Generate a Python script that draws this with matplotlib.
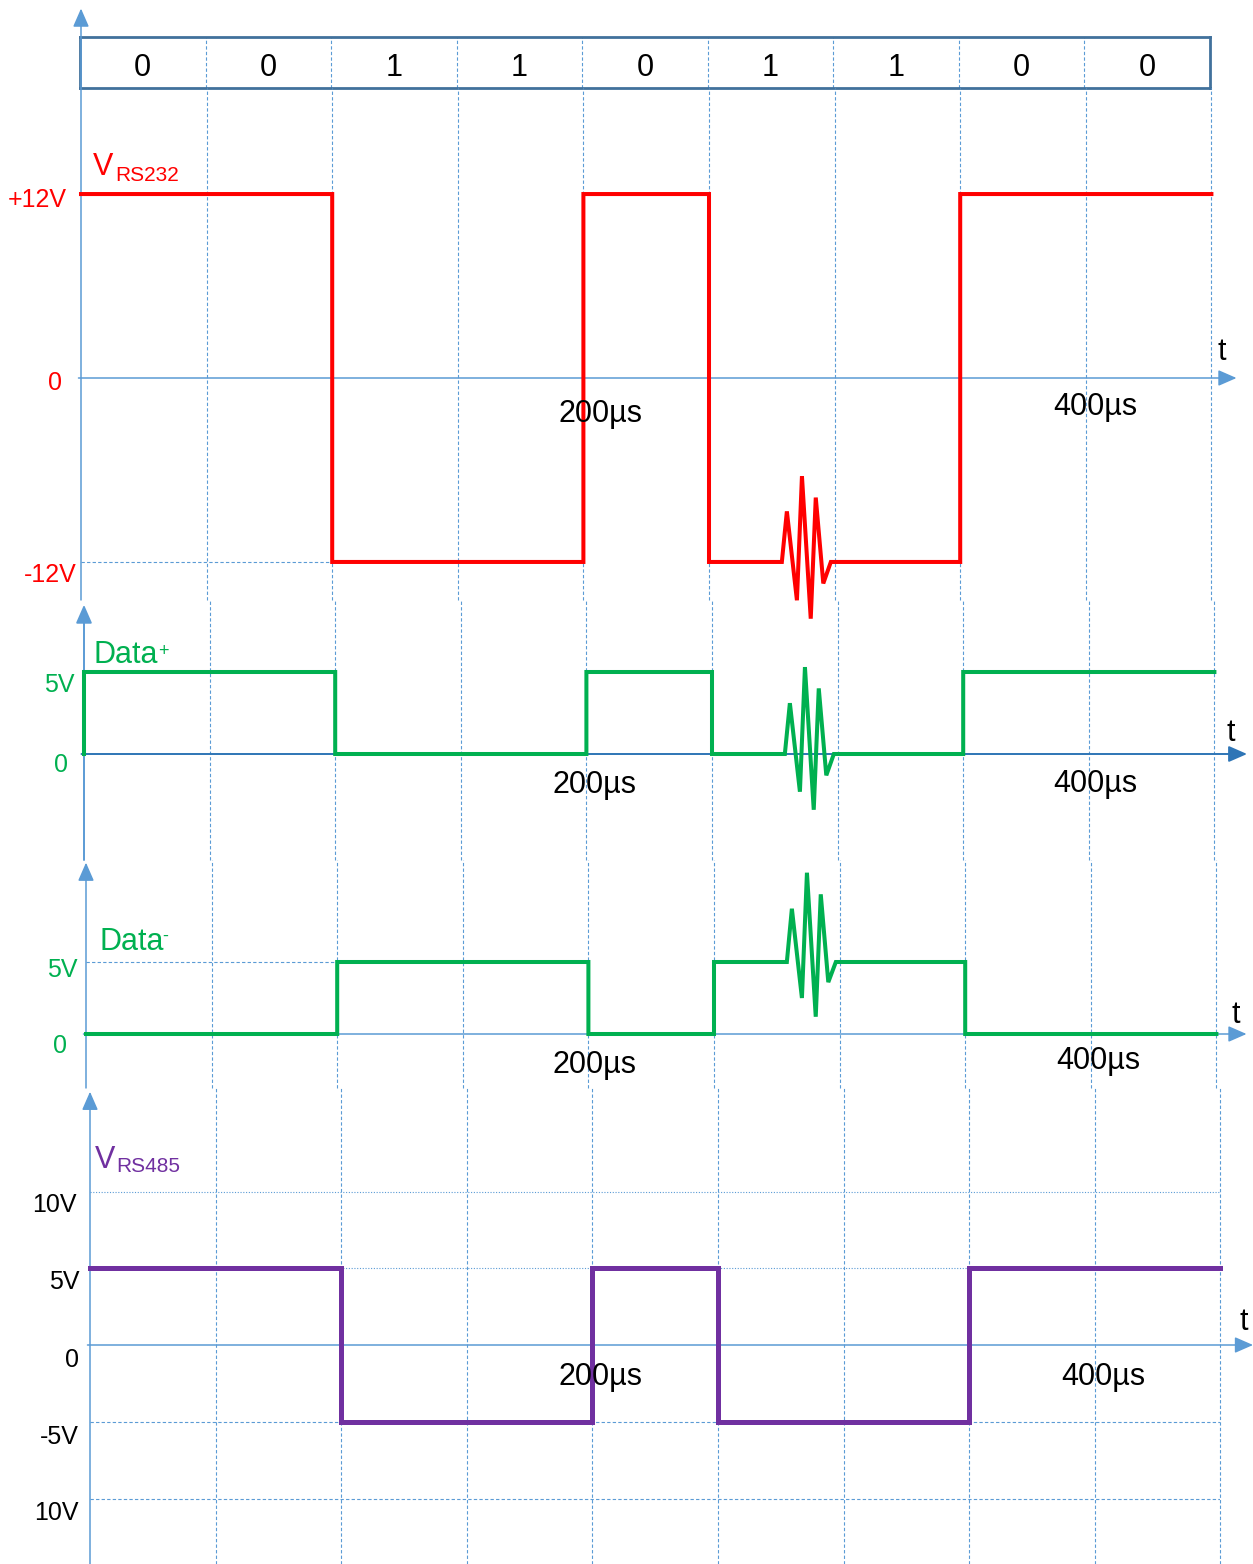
import matplotlib.pyplot as plt

plt.rcParams["font.family"] = ["Liberation Sans", "DejaVu Sans"]

W, H = 1253, 1564
BIT_US = 50
PX_PER_US = 2.512
SPAN_US = 450

# bit pattern and derived line levels
bits = [0, 0, 1, 1, 0, 1, 1, 0, 0]
rs232_levels = [12 if b == 0 else -12 for b in bits]
data_plus_levels = [5 if b == 0 else 0 for b in bits]
data_minus_levels = [0 if b == 0 else 5 for b in bits]
rs485_levels = [p - m for p, m in zip(data_plus_levels, data_minus_levels)]

# common-mode burst during bit 5 (offsets in volts from the line level)
noisy_bit = 5
noise_t = [279, 281, 285, 287, 290.5, 292.5, 295.5, 298.5]
noise_rs232 = [0, 3.3, -2.5, 5.6, -3.7, 4.2, -1.4, 0]
noise_data_plus = [0, 3.1, -2.3, 5.3, -3.4, 4.0, -1.3, 0]
noise_data_minus = [0, 3.7, -2.5, 6.2, -3.8, 4.7, -1.4, 0]

time_ticks = [200, 400]
time_tick_labels = ["200µs", "400µs"]

rs232_ticks = [12, 0, -12]
rs232_tick_labels = ["+12V", "0", "-12V"]
data_ticks = [5, 0]
data_tick_labels = ["5V", "0"]
rs485_ticks = [10, 5, 0, -5, -10]
rs485_tick_labels = ["10V", "5V", "0", "-5V", "10V"]

RED = "#ff0000"
GREEN = "#00b050"
PURPLE = "#7030a0"
AXIS = "#5b9bd5"
GRID = "#5b9bd5"
BOX = "#41719c"


def waveform(levels, start=None, noise=None):
    t, v = [], []
    if start is not None:
        t.append(0)
        v.append(start)
    for i, lev in enumerate(levels):
        t.append(i * BIT_US)
        v.append(lev)
        if noise is not None and i == noisy_bit:
            t.extend(noise_t)
            v.extend(lev + n for n in noise)
        t.append((i + 1) * BIT_US)
        v.append(lev)
    return t, v


fig = plt.figure(figsize=(W / 100, H / 100), dpi=100)


def panel(x0, top, bottom, zero_px, px_per_v):
    ax = fig.add_axes([x0 / W, 1 - bottom / H, SPAN_US * PX_PER_US / W, (bottom - top) / H])
    ax.set_xlim(0, SPAN_US)
    ax.set_ylim(-(bottom - zero_px) / px_per_v, (zero_px - top) / px_per_v)
    ax.axis("off")
    for k in range(1, len(bits) + 1):
        ax.axvline(k * BIT_US, color=GRID, lw=0.8, ls=(0, (3, 2)), zorder=1, clip_on=False)
    return ax


def axes_arrows(ax, t_tip, v_tip, color=AXIS, lw=1.1):
    style = dict(arrowstyle="-|>,head_width=0.35,head_length=0.8", color=color, lw=lw,
                 mutation_scale=14, shrinkA=0, shrinkB=0)
    ax.annotate("", xy=(t_tip, 0), xytext=(-1, 0), arrowprops=style, annotation_clip=False, zorder=2)
    ax.annotate("", xy=(0, v_tip), xytext=(0, ax.get_ylim()[0]),
                arrowprops=dict(style, color=AXIS), annotation_clip=False, zorder=2)


def level_labels(ax, ticks, labels, offsets, color, size=18):
    for v, lab, (dx, dy) in zip(ticks, labels, offsets):
        ax.annotate(lab, xy=(0, v), xytext=(dx, dy), textcoords="offset pixels",
                    ha="right", va="center", color=color, fontsize=size, annotation_clip=False)


def time_labels(ax, offsets, t_offset):
    for t, lab, (dx, dy) in zip(time_ticks, time_tick_labels, offsets):
        ax.annotate(lab, xy=(t, 0), xytext=(dx, dy), textcoords="offset pixels",
                    ha="center", va="center", fontsize=22, annotation_clip=False, zorder=5)
    ax.annotate("t", xy=(SPAN_US, 0), xytext=t_offset, textcoords="offset pixels",
                ha="center", va="center", fontsize=22, annotation_clip=False)


def name_label(ax, ref_v, main, sub, main_off, sub_off, color, sub_is_super=False):
    ax.annotate(main, xy=(0, ref_v), xytext=main_off, textcoords="offset pixels",
                ha="left", va="baseline", color=color, fontsize=22, annotation_clip=False)
    ax.annotate(sub, xy=(0, ref_v), xytext=sub_off, textcoords="offset pixels",
                ha="left", va="center" if sub_is_super else "baseline", color=color,
                fontsize=13 if sub_is_super else 15, annotation_clip=False)


line_kw = dict(clip_on=False, solid_joinstyle="miter", zorder=4)

# bit strip
ax_bits = fig.add_axes([80 / W, 1 - 88 / H, 1130 / W, 51 / H])
ax_bits.set_xlim(0, SPAN_US)
ax_bits.set_ylim(0, 1)
ax_bits.set_xticks([])
ax_bits.set_yticks([])
for sp in ax_bits.spines.values():
    sp.set_color(BOX)
    sp.set_linewidth(2)
for k in range(1, len(bits)):
    ax_bits.axvline(k * BIT_US, color=GRID, lw=0.8, ls=(0, (3, 2)))
for i, b in enumerate(bits):
    ax_bits.text(i * BIT_US + BIT_US / 2, 0.4, str(b), ha="center", va="center", fontsize=22)

# RS232
ax1 = panel(81, 88, 600, 378, 15.33)
axes_arrows(ax1, 460, 24.1)
ax1.hlines(-12, 0, 2 * BIT_US, color=GRID, lw=0.8, ls=(0, (3, 2)), zorder=1)
t, v = waveform(rs232_levels, noise=noise_rs232)
ax1.plot(t, v, color=RED, lw=2.9, **line_kw)
level_labels(ax1, rs232_ticks, rs232_tick_labels, [(-14, -6), (-19, -5), (-4, -13)], RED)
time_labels(ax1, [(17, -36), (10, -29)], (10, 26))
name_label(ax1, 12, "V", "RS232", (12, 19), (34, 13), RED)

# Data+
ax2 = panel(84, 600, 860, 754, 16.4)
axes_arrows(ax2, 463, 9.1, color="#2e75b6", lw=1.4)
t, v = waveform(data_plus_levels, start=0, noise=noise_data_plus)
ax2.plot(t, v, color=GREEN, lw=2.9, **line_kw)
level_labels(ax2, data_ticks, data_tick_labels, [(-9, -13), (-16, -11)], GREEN)
time_labels(ax2, [(8, -31), (7, -30)], (16, 21))
name_label(ax2, 5, "Data", "+", (9, 9), (74, 21), GREEN, sub_is_super=True)

# Data-
ax3 = panel(86, 860, 1088, 1034, 14.4)
axes_arrows(ax3, 462, 11.9)
ax3.hlines(5, 0, 2 * BIT_US, color=GRID, lw=0.8, ls=(0, (3, 2)), zorder=1)
t, v = waveform(data_minus_levels, noise=noise_data_minus)
ax3.plot(t, v, color=GREEN, lw=2.9, **line_kw)
level_labels(ax3, data_ticks, data_tick_labels, [(-8, -8), (-19, -12)], GREEN)
time_labels(ax3, [(6, -31), (8, -27)], (19, 19))
name_label(ax3, 5, "Data", "-", (14, 12), (76, 26), GREEN, sub_is_super=True)

# RS485 differential
ax4 = panel(90, 1088, 1564, 1345, 15.35)
axes_arrows(ax4, 463, 16.5)
for lev in rs485_ticks:
    if lev == 0:
        continue
    ls = (0, (1, 1.5)) if lev > 0 else (0, (3, 2))
    ax4.hlines(lev, 0, SPAN_US, color=GRID, lw=0.8, ls=ls, zorder=1)
t, v = waveform(rs485_levels)
ax4.plot(t, v, color=PURPLE, lw=3.6, **line_kw)
level_labels(ax4, rs485_ticks, rs485_tick_labels,
             [(-13, -13), (-10, -14), (-11, -15), (-11, -15), (-11, -14)], "black")
time_labels(ax4, [(8, -32), (9, -32)], (23, 23))
name_label(ax4, 10, "V", "RS485", (5, 23), (26, 19), PURPLE)

fig.savefig("out.png", dpi=100)
